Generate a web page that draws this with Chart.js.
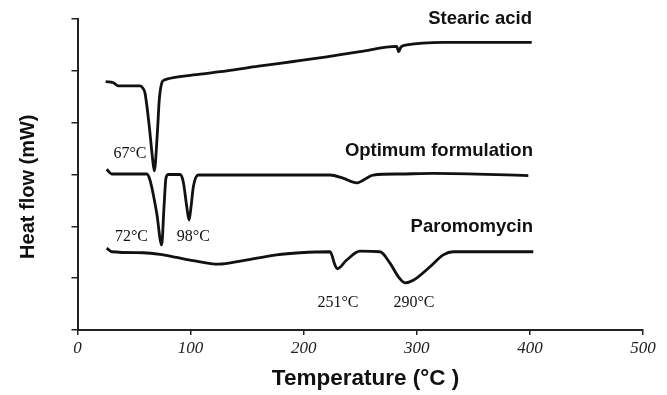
<!DOCTYPE html>
<html><head><meta charset="utf-8">
<script src="https://cdn.jsdelivr.net/npm/chart.js@4.4.1/dist/chart.umd.min.js"></script>
<style>html,body{margin:0;padding:0;background:#fff;}#wrap{width:667px;height:395px;position:relative}</style>
</head><body><div id="wrap"><canvas id="c" width="667" height="395"></canvas></div>
<script>
// Temperature (°C) and heat flow (arbitrary units, one unit per y tick)
const stearicT = [24.9,31.7,36.1,55.3,58.0,59.7,63.5,66.5,67.9,70.6,72.3,74.4,76.5,78.9,102.4,131.9,160,190.8,220.3,249.8,282.2,284.0,286,291.1,323.4,360,401.6];
const stearicY = [4.79,4.77,4.71,4.71,4.66,4.57,3.92,3.28,3.07,3.80,4.44,4.76,4.82,4.84,4.92,5.00,5.09,5.18,5.27,5.37,5.47,5.37,5.46,5.50,5.55,5.55,5.55];
const optT = [25.8,30.2,61.2,64.1,70.0,74.4,76.5,78.2,80.3,90.6,93.5,96.6,98.6,100.4,102.4,106.8,223.3,234.7,246.9,261.5,285.3,314.6,398.6];
const optY = [3.10,3.01,3.01,2.89,2.26,1.64,2.38,2.93,3.00,3.00,2.86,2.38,2.12,2.38,2.76,2.99,2.99,2.93,2.84,2.99,3.01,3.02,2.98];
const paroT = [25.8,30.2,58.2,72.9,87.7,102.4,124.5,146.6,176.1,196.7,223.3,227.7,229.7,238.0,249.8,267.5,276.3,283.6,289.6,296.9,311.7,323.4,332.3,403];
const paroY = [1.58,1.51,1.49,1.46,1.40,1.34,1.27,1.34,1.45,1.49,1.51,1.25,1.18,1.35,1.52,1.51,1.29,1.03,0.91,0.96,1.22,1.45,1.51,1.51];

const seriesNames = ['Stearic acid','Optimum formulation','Paromomycin'];
const seriesLabelT = [401.9, 402.7, 402.7];
const seriesLabelY = [5.90, 3.36, 1.885];

const peakLabels = ['67°C','72°C','98°C','251°C','290°C'];
const peakLabelT = [46.4, 47.7, 102.4, 230.3, 297.5];
const peakLabelY = [3.31, 1.72, 1.72, 0.45, 0.45];

const xTicks = [0,100,200,300,400,500];
const xTitle = 'Temperature (°C )';
const yTitle = 'Heat flow (mW)';

function pts(t, v){ return t.map((x,i)=>({x:x, y:v[i]})); }

const textPlugin = {
  id: 'texts',
  afterDraw(chart){
    const {ctx, scales:{x, y}} = chart;
    ctx.save();
    ctx.fillStyle = '#111';
    ctx.textBaseline = 'alphabetic';
    ctx.textAlign = 'right';
    ctx.font = 'bold 18.5px "Liberation Sans", Arial, sans-serif';
    seriesNames.forEach((s,i)=>ctx.fillText(s, x.getPixelForValue(seriesLabelT[i]), y.getPixelForValue(seriesLabelY[i])));
    ctx.textAlign = 'center';
    ctx.font = '16px "Liberation Serif", "Times New Roman", serif';
    peakLabels.forEach((s,i)=>ctx.fillText(s, x.getPixelForValue(peakLabelT[i]), y.getPixelForValue(peakLabelY[i])));
    // axis titles
    ctx.textBaseline = 'middle';
    ctx.font = 'bold 22.5px "Liberation Sans", Arial, sans-serif';
    ctx.fillText(xTitle, 365.5, 379);
    ctx.translate(28.5, 186.7);
    ctx.rotate(-Math.PI/2);
    ctx.font = 'bold 20px "Liberation Sans", Arial, sans-serif';
    ctx.fillText(yTitle, 0, 0);
    ctx.restore();
  }
};

const lineStyle = {borderColor:'#111', borderWidth:2.8, pointRadius:0, fill:false, cubicInterpolationMode:'monotone'};

new Chart(document.getElementById('c'), {
  type: 'line',
  data: {
    datasets: [
      Object.assign({label: seriesNames[0], data: pts(stearicT, stearicY)}, lineStyle),
      Object.assign({label: seriesNames[1], data: pts(optT, optY)}, lineStyle),
      Object.assign({label: seriesNames[2], data: pts(paroT, paroY)}, lineStyle)
    ]
  },
  options: {
    responsive: false,
    animation: false,
    devicePixelRatio: 1,
    layout: {padding: {top: 19, right: 24, left: 0, bottom: 0}},
    plugins: {legend: {display: false}, tooltip: {enabled: false}},
    scales: {
      x: {
        type: 'linear', min: 0, max: 500,
        afterFit: s => { s.height = 65; },
        afterBuildTicks: s => { s.ticks = xTicks.map(v => ({value: v})); },
        grid: {drawOnChartArea: false, drawTicks: true, tickLength: 5, color: '#222', lineWidth: 1.5},
        border: {display: true, color: '#222', width: 2},
        ticks: {padding: 3, maxRotation: 0, autoSkip: false, color: '#222',
                font: {family: '"Liberation Serif", "Times New Roman", serif', style: 'italic', size: 17}}
      },
      y: {
        type: 'linear', min: 0, max: 6,
        afterFit: s => { s.width = 77.5; },
        grid: {drawOnChartArea: false, drawTicks: true, tickLength: 6, color: '#222', lineWidth: 1.5},
        border: {display: true, color: '#222', width: 2},
        ticks: {display: false, stepSize: 1}
      }
    }
  },
  plugins: [textPlugin]
});
</script>
</body></html>
